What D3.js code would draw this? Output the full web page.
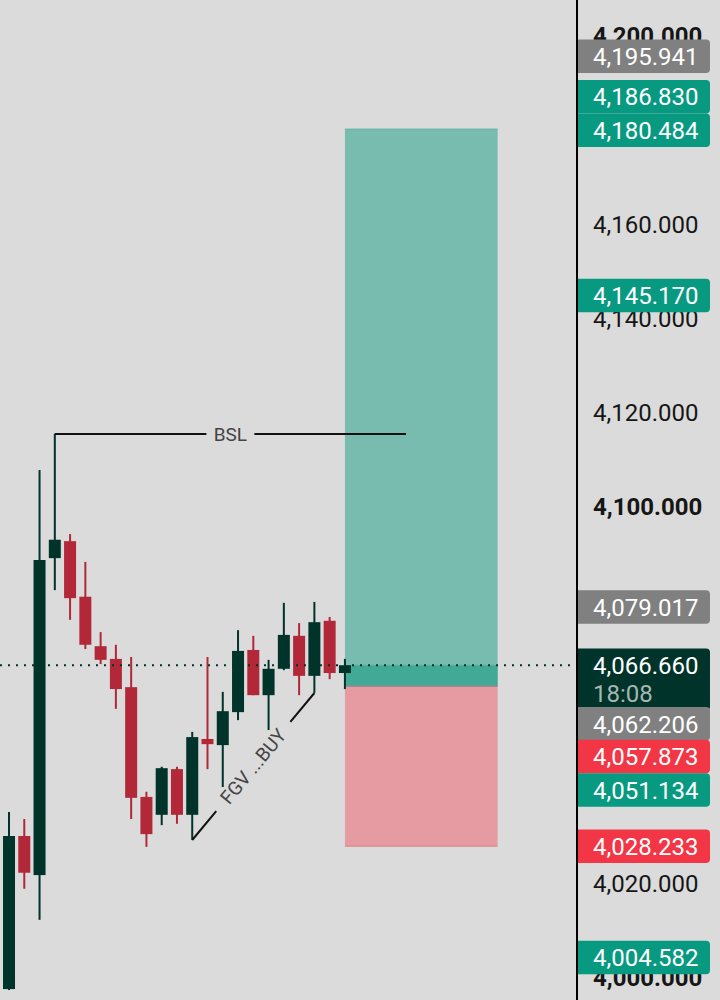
<!DOCTYPE html>
<html>
<head>
<meta charset="utf-8">
<script src="https://cdn.jsdelivr.net/npm/d3@7"></script>
<style>
  body { margin: 0; background: #dbdbdb; }
  text { font-family: Roboto, "Noto Sans", sans-serif; }
</style>
</head>
<body>
<div id="chart"></div>
<script>
const svgWidth = 720;
const svgHeight = 1000;
const axisX = 577;

// candles, oldest first
const opens  = [3997.9, 4030.4, 4022.1, 4089.4, 4093.0, 4081.2, 4070.7, 4068.0, 4062.0, 4038.7, 4034.9, 4044.6,
                4034.9, 4051.0, 4049.7, 4056.7, 4069.9, 4060.3, 4065.9, 4072.9, 4064.4, 4076.1, 4065.0];
const highs  = [4035.5, 4034.0, 4108.1, 4115.8, 4094.5, 4088.6, 4073.7, 4071.0, 4068.4, 4039.8, 4045.1, 4045.1,
                4052.5, 4068.4, 4061.0, 4074.1, 4072.9, 4067.8, 4079.9, 4075.6, 4080.1, 4076.9, 4068.0];
const lows   = [3997.7, 4019.2, 4012.6, 4082.6, 4076.3, 4070.1, 4066.9, 4057.4, 4034.0, 4028.1, 4032.7, 4033.0,
                4029.6, 4044.6, 4040.8, 4055.0, 4060.3, 4052.9, 4065.6, 4060.3, 4060.8, 4063.7, 4061.6];
const closes = [4030.4, 4022.6, 4089.0, 4093.3, 4080.9, 4071.0, 4067.8, 4061.6, 4038.5, 4030.8, 4044.8, 4034.9,
                4051.4, 4049.9, 4056.9, 4069.7, 4060.3, 4065.9, 4073.1, 4064.4, 4075.8, 4065.0, 4066.66];

const currentPrice = 4066.66;
const countdown = "18:08";

// long position tool
const entryPrice = 4062.206;
const targetPrice = 4180.484;
const stopPrice = 4028.233;
const positionBars = [22, 32];

// drawings
const bslBars = [3, 26];
const bslPrice = 4115.75;
const fgvBars = [12, 20];
const fgvPrices = [4029.55, 4060.76];

const tickValues = [4000, 4020, 4040, 4060, 4080, 4100, 4120, 4140, 4160, 4180, 4200];

// price scale labels
const labelValues = [4195.941, 4186.830, 4180.484, 4145.170, 4079.017, 4062.206, 4057.873, 4051.134, 4028.233, 4004.582];
const labelKinds  = ["mark", "up", "up", "up", "mark", "mark", "down", "up", "down", "up"];

const kindColor = { mark: "#808080", up: "#089981", down: "#f23645", last: "#00332a" };
const bull = "#00332a";
const bear = "#b22838";

const svg = d3.select("#chart")
  .append("svg")
  .attr("width", svgWidth)
  .attr("height", svgHeight);

svg.append("rect")
  .attr("width", svgWidth)
  .attr("height", svgHeight)
  .attr("fill", "#dbdbdb");

const x = d3.scaleLinear().domain([-0.59, 37.2]).range([0, axisX]);
const y = d3.scaleLinear().domain([3995.58, 4207.9]).range([svgHeight, 0]);
const bodyW = 12;

// position tool
const posG = svg.append("g");
const px0 = x(positionBars[0]);
const px1 = x(positionBars[1]);
posG.append("rect")
  .attr("x", px0).attr("width", px1 - px0)
  .attr("y", y(targetPrice)).attr("height", y(entryPrice) - y(targetPrice))
  .attr("fill", "#77bcaf");
posG.append("rect")
  .attr("x", px0).attr("width", px1 - px0)
  .attr("y", y(currentPrice)).attr("height", y(entryPrice) - y(currentPrice))
  .attr("fill", "#41a996");
posG.append("rect")
  .attr("x", px0).attr("width", px1 - px0)
  .attr("y", y(entryPrice)).attr("height", y(stopPrice) - y(entryPrice))
  .attr("fill", "#e59ba1");
posG.append("line")
  .attr("x1", px0).attr("x2", px1)
  .attr("y1", y(targetPrice)).attr("y2", y(targetPrice))
  .attr("stroke", "#5fb1a2").attr("stroke-width", 1);
posG.append("line")
  .attr("x1", px0).attr("x2", px1)
  .attr("y1", y(entryPrice)).attr("y2", y(entryPrice))
  .attr("stroke", "#a08a8c").attr("stroke-width", 1.5);
posG.append("line")
  .attr("x1", px0).attr("x2", px1)
  .attr("y1", y(stopPrice)).attr("y2", y(stopPrice))
  .attr("stroke", "#dd858c").attr("stroke-width", 1);

// candles
const candles = opens.map((o, i) => ({ i: i, o: o, h: highs[i], l: lows[i], c: closes[i] }));
const candleG = svg.append("g").selectAll("g")
  .data(candles)
  .enter()
  .append("g");

candleG.append("rect")
  .attr("x", d => x(d.i) - 1)
  .attr("width", 2)
  .attr("y", d => y(d.h))
  .attr("height", d => y(d.l) - y(d.h))
  .attr("fill", d => d.c >= d.o ? bull : bear);

candleG.append("rect")
  .attr("x", d => x(d.i) - bodyW / 2)
  .attr("width", bodyW)
  .attr("y", d => y(Math.max(d.o, d.c)))
  .attr("height", d => Math.max(1, Math.abs(y(d.o) - y(d.c))))
  .attr("fill", d => d.c >= d.o ? bull : bear);

// BSL line
const bslY = y(bslPrice);
const bslMid = (x(bslBars[0]) + x(bslBars[1])) / 2;
svg.append("line")
  .attr("x1", x(bslBars[0])).attr("x2", bslMid - 24)
  .attr("y1", bslY).attr("y2", bslY)
  .attr("stroke", "#111").attr("stroke-width", 2);
svg.append("line")
  .attr("x1", bslMid + 24).attr("x2", x(bslBars[1]))
  .attr("y1", bslY).attr("y2", bslY)
  .attr("stroke", "#111").attr("stroke-width", 2);
svg.append("text")
  .attr("x", bslMid).attr("y", bslY)
  .attr("text-anchor", "middle")
  .attr("dominant-baseline", "central")
  .attr("font-size", 19)
  .attr("fill", "#444")
  .text("BSL");

// FGV ... BUY trend line
const fx0 = x(fgvBars[0]), fy0 = y(fgvPrices[0]);
const fx1 = x(fgvBars[1]), fy1 = y(fgvPrices[1]);
const fLen = Math.hypot(fx1 - fx0, fy1 - fy0);
const fAngle = Math.atan2(fy1 - fy0, fx1 - fx0) * 180 / Math.PI;
const fgvG = svg.append("g")
  .attr("transform", `translate(${fx0},${fy0}) rotate(${fAngle})`);
fgvG.append("line")
  .attr("x1", 0).attr("x2", fLen / 2 - 58)
  .attr("stroke", "#111").attr("stroke-width", 2);
fgvG.append("line")
  .attr("x1", fLen / 2 + 58).attr("x2", fLen)
  .attr("stroke", "#111").attr("stroke-width", 2);
fgvG.append("text")
  .attr("x", fLen / 2)
  .attr("text-anchor", "middle")
  .attr("dominant-baseline", "central")
  .attr("font-size", 19)
  .attr("fill", "#444")
  .text("FGV ...BUY");

// current price dotted line
svg.append("line")
  .attr("x1", 0).attr("x2", axisX)
  .attr("y1", y(currentPrice)).attr("y2", y(currentPrice))
  .attr("stroke", bull)
  .attr("stroke-width", 2)
  .attr("stroke-dasharray", "2,6");

// price labels, stacked so they do not overlap
const labelH = 33.5;
const items = labelValues.map((v, i) => ({ v: v, kind: labelKinds[i], h: labelH, fixed: false }));
items.push({ v: currentPrice, kind: "last", h: 62, fixed: true });
items.forEach(d => { d.top = y(d.v) - labelH / 2; });
items.sort((a, b) => a.top - b.top);
for (let pass = 0; pass < 30; pass++) {
  for (let i = 1; i < items.length; i++) {
    const prev = items[i - 1], cur = items[i];
    const overlap = prev.top + prev.h - cur.top;
    if (overlap > 0) {
      if (prev.fixed) cur.top += overlap;
      else if (cur.fixed) prev.top -= overlap;
      else { prev.top -= overlap / 1.4; cur.top += overlap - overlap / 1.4; }
    }
  }
}

// price axis ticks; the ones fully hidden under a label are left out
const fmt = d3.format(",.3f");
const shownTicks = tickValues.filter(t =>
  !items.some(d => y(t) - 10 > d.top && y(t) + 10 < d.top + d.h));
const yAxis = svg.append("g")
  .attr("transform", `translate(${axisX},0)`)
  .call(d3.axisRight(y).tickValues(shownTicks).tickSize(0).tickPadding(16).tickFormat(fmt));
yAxis.select(".domain").remove();
yAxis.selectAll("text")
  .attr("font-family", "Roboto, sans-serif")
  .attr("font-size", 24)
  .attr("dy", "0.28em")
  .attr("fill", "#161616")
  .attr("font-weight", d => d % 100 === 0 ? "bold" : "normal");

function labelPath(x0, x1, top, h, r) {
  const b = top + h;
  return `M${x0},${top}H${x1 - r}Q${x1},${top} ${x1},${top + r}V${b - r}Q${x1},${b} ${x1 - r},${b}H${x0}Z`;
}

const labelG = svg.append("g").selectAll("g")
  .data(items)
  .enter()
  .append("g");

labelG.append("path")
  .attr("d", d => labelPath(axisX, 710, d.top, d.h, 4))
  .attr("fill", d => kindColor[d.kind]);

labelG.append("text")
  .attr("x", 593)
  .attr("y", d => d.top + labelH / 2)
  .attr("dy", "0.36em")
  .attr("font-size", 24)
  .attr("fill", "#fff")
  .text(d => fmt(d.v));

labelG.filter(d => d.kind === "last")
  .append("text")
  .attr("x", 593)
  .attr("y", d => d.top + labelH / 2 + 28)
  .attr("dy", "0.36em")
  .attr("font-size", 24)
  .attr("fill", "#a6b7b1")
  .text(countdown);

// axis border
svg.append("line")
  .attr("x1", axisX).attr("x2", axisX)
  .attr("y1", 0).attr("y2", svgHeight)
  .attr("stroke", "#000")
  .attr("stroke-width", 2);
</script>
</body>
</html>
